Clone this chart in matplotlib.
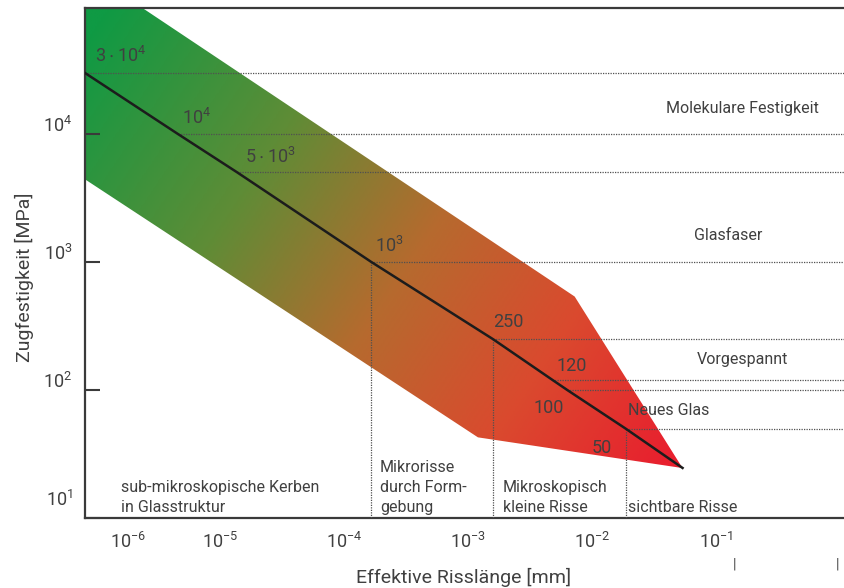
import numpy as np
import matplotlib.pyplot as plt
from matplotlib.colors import LinearSegmentedColormap
from matplotlib.patches import Polygon
from matplotlib.transforms import ScaledTranslation, blended_transform_factory

plt.rcParams['font.family'] = ['Roboto', 'DejaVu Sans']

# band outline (log10 crack length [mm], log10 strength [MPa])
band_loga = [-6.3, -2.14, -1.27, -2.92, -6.3]
band_logs = [5.42, 2.73, 1.39, 1.63, 3.78]

# main curve: crack length (log10 mm) and strength (MPa)
line_loga = [-6.09, -5.34, -4.86, -3.78, -2.80, -2.32, -2.20, -1.73, -1.27]
line_s = [3e4, 1e4, 5e3, 1e3, 250, 120, 100, 50, 24.6]
value_labels = [r'$\mathregular{3\cdot10^{4}}$', r'$\mathregular{10^{4}}$',
                r'$\mathregular{5\cdot10^{3}}$', r'$\mathregular{10^{3}}$',
                '250', '120', '100', '50']

# levels that get a vertical dotted line down to the axis
vert_levels = [1e3, 250, 50]

# right-hand strength classes
class_names = ['Molekulare Festigkeit', 'Glasfaser', 'Vorgespannt', 'Neues Glas']
class_loga = [-0.79, -0.90, -0.79, -1.71]
class_logs = [4.20, 3.21, 2.24, 1.84]

# crack regions along the bottom
region_names = ['sub-mikroskopische Kerben\nin Glasstruktur',
                'Mikrorisse\ndurch Form-\ngebung',
                'Mikroskopisch\nkleine Risse',
                'sichtbare Risse']
region_loga = [-5.80, -3.71, -2.72, -1.71]

xticks = [1e-6, 1e-5, 1e-4, 1e-3, 1e-2, 1e-1]
yticks = [1e1, 1e2, 1e3, 1e4]

txt = '#404040'
fig = plt.figure(figsize=(8.44, 5.88), dpi=100)
ax = fig.add_axes([85 / 844, 70 / 588, 759 / 844, 510 / 588])
ax.set_xscale('log')
ax.set_yscale('log')
xmin, xmax = 10 ** -6.089, 10 ** 0.032
ax.set_xlim(xmin, xmax)
ax.set_ylim(10, 10 ** 4.984)

# gradient band
W, H = 759, 510
u, v = np.meshgrid(np.linspace(0, 1, 400), np.linspace(0, 1, 300))
px = u * W
py = (1 - v) * H
d = np.array([598.0, 400.0])
t = (px * d[0] + (py - 30) * d[1]) / (d ** 2).sum()
cmap = LinearSegmentedColormap.from_list('gr', [(0.0, '#0f9a44'), (0.3, '#5f8c36'),
                                                 (0.55, '#b66a2e'), (0.78, '#da4a2e'),
                                                 (1.0, '#e8202e')])
im = ax.imshow(np.clip(t, 0, 1), cmap=cmap, vmin=0, vmax=1, origin='lower',
               extent=[0, 1, 0, 1], transform=ax.transAxes, aspect='auto',
               interpolation='bilinear', zorder=1)
poly = Polygon(np.column_stack([10 ** np.array(band_loga), 10 ** np.array(band_logs)]),
               closed=True, facecolor='none', edgecolor='none', transform=ax.transData)
ax.add_patch(poly)
im.set_clip_path(poly)

line_a = 10 ** np.array(line_loga)
ax.plot(line_a, line_s, color='#1c1c1c', lw=1.8, zorder=4)

# dotted guides
for a, s in zip(line_a[:-1], line_s[:-1]):
    ax.hlines(s, a, xmax, colors='#505050', linestyles=(0, (1, 1)), lw=0.9, zorder=3)
    if s in vert_levels:
        ax.vlines(a, 10, s, colors='#505050', linestyles=(0, (1, 1)), lw=0.9, zorder=3)

# value labels along the line
offsets = [(10, 7, 'left', 'bottom'), (4, 6, 'left', 'bottom'), (8, 5, 'left', 'bottom'),
           (4, 6, 'left', 'bottom'), (0, 8, 'left', 'bottom'), (4, 5, 'left', 'bottom'),
           (-3, -9, 'right', 'top'), (-14, -10, 'right', 'top')]
for a, s, lab, (dx, dy, ha, va) in zip(line_a, line_s, value_labels, offsets):
    ax.annotate(lab, (a, s), xytext=(dx, dy), textcoords='offset pixels',
                ha=ha, va=va, fontsize=13, color=txt, zorder=5)

for name, la, ls in zip(class_names, class_loga, class_logs):
    ax.text(10 ** la, 10 ** ls, name, ha='left' if name == 'Neues Glas' else 'center',
            va='center', fontsize=11.5, color=txt, zorder=5)

for name, la in zip(region_names, region_loga):
    ax.text(10 ** la, 10 ** 1.02, name, ha='left', va='bottom', fontsize=11.5,
            color=txt, linespacing=1.45, zorder=5)

# small marks below the axis
bt = blended_transform_factory(ax.transData, ax.transAxes)
for la in [-0.85, -0.02]:
    ax.text(10 ** la, -0.092, '|', transform=bt, ha='center', va='center',
            fontsize=10, color=txt, clip_on=False)

for side in ['left', 'bottom', 'top']:
    ax.spines[side].set_color('#3a3a3a')
    ax.spines[side].set_linewidth(1.6)
ax.spines['right'].set_visible(False)

ax.set_xticks(xticks)
ax.set_xticklabels([r'$\mathregular{10^{%d}}$' % int(np.log10(x)) for x in xticks])
ax.set_yticks(yticks)
ax.set_yticklabels([r'$\mathregular{10^{%d}}$' % int(np.log10(y)) for y in yticks])
ax.minorticks_off()
ax.tick_params(axis='x', length=0, pad=10, labelsize=13, labelcolor=txt)
ax.tick_params(axis='y', direction='in', length=11, width=1.5, color='#3a3a3a',
               pad=9, labelsize=13, labelcolor=txt)
for i, lab in enumerate(ax.get_yticklabels()):
    dy = 20 if i == 0 else 10
    lab.set_transform(lab.get_transform() + ScaledTranslation(0, dy / 100, fig.dpi_scale_trans))
xl0 = ax.get_xticklabels()[0]
xl0.set_transform(xl0.get_transform() + ScaledTranslation(0.32, 0, fig.dpi_scale_trans))

ax.set_xlabel('Effektive Risslänge [mm]', fontsize=14, color=txt)
ax.set_ylabel('Zugfestigkeit [MPa]', fontsize=14, color=txt)
ax.xaxis.set_label_coords(0.499, -0.098)
ax.yaxis.set_label_coords(-0.067, 0.4725)

fig.savefig('out.png', dpi=100)
